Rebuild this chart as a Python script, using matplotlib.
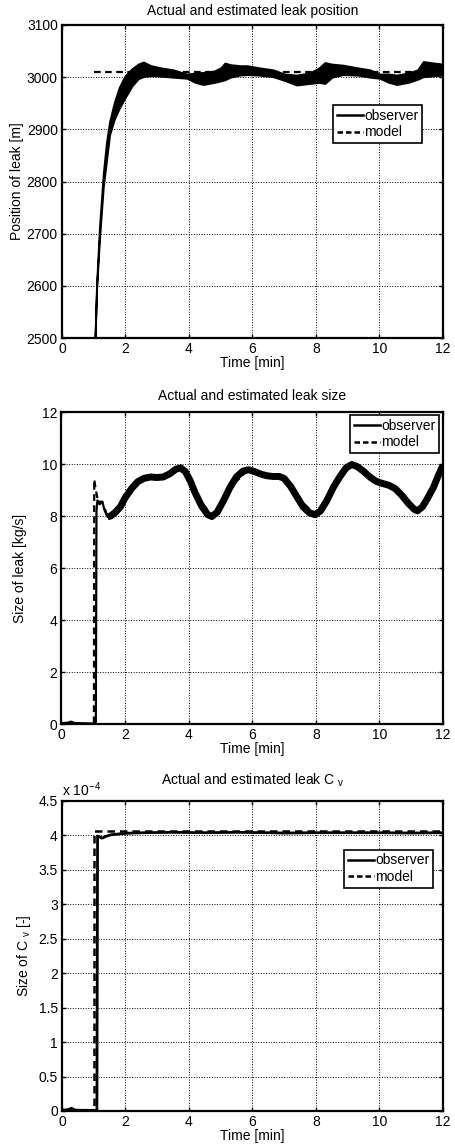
import numpy as np
import matplotlib
matplotlib.use("Agg")
import matplotlib.pyplot as plt
from matplotlib.lines import Line2D
from matplotlib.ticker import FuncFormatter

plt.rcParams['font.family'] = ['Liberation Sans', 'DejaVu Sans']
plt.rcParams['font.size'] = 10
plt.rcParams['axes.titlesize'] = 10
plt.rcParams['mathtext.default'] = 'regular'

# ---- leak position [m] ----
pos_t = [1.00, 1.04, 1.09, 1.18, 1.30, 1.40, 1.50, 1.65, 1.80, 1.98, 2.20, 2.40, 2.56,
         2.80, 3.10, 3.50, 3.93, 4.20, 4.45, 4.80, 5.00, 5.13, 5.30, 5.60, 5.82, 6.20,
         6.65, 7.00, 7.39, 7.80, 8.10, 8.28, 8.50, 8.85, 9.30, 9.70, 10.00, 10.30,
         10.54, 10.90, 11.20, 11.38, 11.60, 12.00]
pos_hi = [2430, 2500, 2605, 2712, 2815, 2875, 2915, 2952, 2980, 3002, 3016, 3025, 3029,
          3022, 3018, 3014, 3006, 3008, 3009, 3012, 3018, 3027, 3024, 3022, 3022, 3018,
          3014, 3006, 3004, 3008, 3018, 3028, 3025, 3023, 3018, 3014, 3006, 3006,
          3004, 3008, 3014, 3030, 3028, 3025]
pos_lo = [2430, 2500, 2595, 2690, 2790, 2840, 2890, 2920, 2940, 2960, 2983, 2997, 3001,
          3003, 3002, 3000, 2998, 2990, 2986, 2990, 2993, 2995, 3000, 3004, 3005, 3004,
          3001, 2994, 2985, 2988, 2990, 2988, 3000, 3005, 3004, 3000, 2998, 2990,
          2986, 2990, 2996, 3001, 3002, 3004]
pos_model_t = [1.0, 12.0]
pos_model = [3010, 3010]

# ---- leak size [kg/s] ----
size_t = [0.0, 0.2, 0.3, 0.4, 0.6, 0.9, 1.08, 1.10, 1.13, 1.20, 1.28, 1.36, 1.45, 1.55,
          1.70, 1.85, 2.00, 2.20, 2.40, 2.60, 2.80, 3.00, 3.20, 3.40, 3.60, 3.75, 3.90,
          4.05, 4.20, 4.40, 4.60, 4.73, 4.90, 5.10, 5.30, 5.50, 5.70, 5.88, 6.05, 6.25,
          6.45, 6.65, 6.85, 7.00, 7.20, 7.40, 7.60, 7.80, 7.98, 8.15, 8.35, 8.55, 8.75,
          8.95, 9.13, 9.30, 9.50, 9.70, 9.90, 10.10, 10.30, 10.50, 10.70, 10.90, 11.10,
          11.20, 11.35, 11.50, 11.70, 11.85, 12.00]
size_obs = [0.03, 0.05, 0.09, 0.04, 0.03, 0.02, 0.03, 8.2, 8.6, 8.45, 8.55, 8.2, 7.97, 8.0,
            8.15, 8.35, 8.7, 9.05, 9.32, 9.45, 9.5, 9.48, 9.5, 9.62, 9.8, 9.85, 9.7,
            9.35, 8.9, 8.4, 8.05, 7.98, 8.15, 8.6, 9.1, 9.5, 9.72, 9.78, 9.72, 9.62,
            9.55, 9.52, 9.52, 9.45, 9.15, 8.75, 8.35, 8.12, 8.05, 8.2, 8.6, 9.1, 9.5,
            9.85, 9.98, 9.9, 9.72, 9.5, 9.33, 9.25, 9.18, 9.05, 8.8, 8.5, 8.25,
            8.2, 8.35, 8.65, 9.1, 9.55, 9.95]
size_model_t = [0.0, 1.02, 1.03, 1.08, 1.15, 1.28, 1.45, 1.70, 2.00, 2.40, 2.80, 3.20,
                3.75, 4.20, 4.73, 5.30, 5.88, 6.45, 7.00, 7.40, 7.98, 8.55, 9.13, 9.70,
                10.30, 10.90, 11.20, 11.70, 12.00]
size_model = [0.0, 0.0, 9.4, 9.0, 8.55, 8.55, 7.97, 8.15, 8.7, 9.32, 9.5, 9.5,
              9.85, 8.9, 7.98, 9.1, 9.78, 9.55, 9.45, 8.75, 8.05, 9.1, 9.98, 9.5,
              9.18, 8.5, 8.2, 9.1, 9.95]

# ---- leak Cv [x 1e-4] ----
cv_t = [0.0, 0.2, 0.3, 0.4, 0.6, 1.0, 1.1, 1.12, 1.18, 1.26, 1.40, 1.55, 1.85, 2.20,
        2.60, 3.50, 4.50, 5.50, 6.50, 7.00, 8.00, 9.00, 10.00, 11.00, 12.00]
cv_obs = [0.01, 0.02, 0.04, 0.015, 0.01, 0.01, 0.01, 3.99, 3.98, 3.96, 3.99, 4.01, 4.025,
          4.035, 4.04, 4.045, 4.04, 4.045, 4.04, 4.035, 4.04, 4.04, 4.04, 4.035, 4.04]
cv_model_t = [0.0, 1.02, 1.02, 12.0]
cv_model = [0.0, 0.0, 4.06, 4.06]
CV_UNIT = 1e-4

x_ticks = [0, 2, 4, 6, 8, 10, 12]

fig = plt.figure(figsize=(4.56, 11.44), dpi=100)
ax1 = fig.add_axes([62/456, 1 - 338/1144, 381/456, 313/1144])
ax2 = fig.add_axes([61.5/456, 1 - 724/1144, 381.5/456, 312/1144])
ax3 = fig.add_axes([62/456, 1 - 1111/1144, 381/456, 310/1144])


def style(ax):
    ax.set_xlim(0, 12)
    ax.set_xticks(x_ticks)
    ax.grid(True, linestyle=':', color='black', linewidth=0.7)
    ax.set_axisbelow(True)
    ax.tick_params(direction='in', length=3, width=1, top=True, right=True, pad=3)
    for s in ax.spines.values():
        s.set_linewidth(1.6)
    ax.set_xlabel('Time [min]', labelpad=0)


def legend(ax, anchor):
    handles = [Line2D([], [], color='black', lw=1.8, ls='-'),
               Line2D([], [], color='black', lw=1.8, ls='--', dashes=(2.2, 1.2))]
    leg = ax.legend(handles, ['observer', 'model'], loc='upper right',
                    bbox_to_anchor=anchor, fancybox=False, framealpha=1,
                    edgecolor='black', handlelength=1.9, handletextpad=0.1,
                    borderpad=0.25, labelspacing=0.2, borderaxespad=0.0,
                    fontsize=10)
    leg.get_frame().set_linewidth(1.2)


# position
ax1.fill_between(pos_t, pos_lo, pos_hi, color='black', lw=1.4)
ax1.plot(pos_model_t, pos_model, color='black', lw=1.6, ls='--', dashes=(3, 2))
style(ax1)
ax1.set_ylim(2500, 3100)
ax1.set_yticks([2500, 2600, 2700, 2800, 2900, 3000, 3100])
ax1.set_title('Actual and estimated leak position', pad=7)
ax1.set_ylabel('Position of leak [m]', labelpad=2)
legend(ax1, (0.945, 0.744))

# size
ax2.plot(size_t, size_obs, color='black', lw=1.6)
tt = np.array(size_t)
vv = np.array(size_obs)
thick = tt >= 1.4
ax2.plot(tt[thick], vv[thick], color='black', lw=5, solid_capstyle='butt')
ax2.plot(size_model_t, size_model, color='black', lw=1.6, ls='--', dashes=(3, 2))
style(ax2)
ax2.set_ylim(0, 12)
ax2.set_yticks([0, 2, 4, 6, 8, 10, 12])
ax2.set_title('Actual and estimated leak size', pad=8.5)
ax2.set_ylabel('Size of leak [kg/s]', labelpad=11)
legend(ax2, (0.99, 0.99))

# Cv
ax3.plot(cv_t, np.array(cv_obs) * CV_UNIT, color='black', lw=2.0)
ax3.plot(cv_model_t, np.array(cv_model) * CV_UNIT, color='black', lw=1.8, ls='--',
         dashes=(3, 2))
style(ax3)
ax3.set_ylim(0, 4.5 * CV_UNIT)
ax3.set_yticks(np.arange(0, 4.51, 0.5) * CV_UNIT)
ax3.yaxis.set_major_formatter(FuncFormatter(lambda v, p: f'{v / CV_UNIT:g}'))
ax3.text(0.0, 1.005, 'x 10$^{-4}$', transform=ax3.transAxes, ha='left', va='bottom',
         fontsize=10)
ax3.set_title('Actual and estimated leak C $_{v}$', pad=11.5)
ax3.set_ylabel('Size of C $_{v}$ [-]', labelpad=4)
legend(ax3, (0.974, 0.842))

fig.savefig('out.png', dpi=100)
